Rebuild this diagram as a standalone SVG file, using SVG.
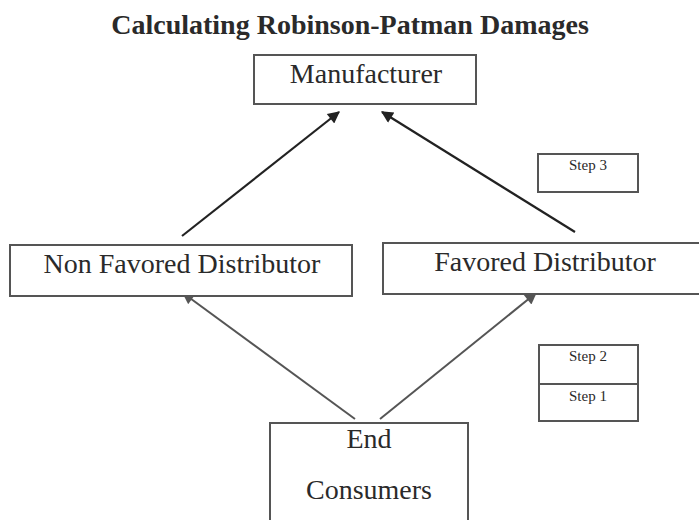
<svg xmlns="http://www.w3.org/2000/svg" width="699" height="520" viewBox="0 0 699 520">
<defs>
<style>
.box{fill:#fff;stroke:#555;stroke-width:2}
.t{font-family:"Liberation Serif","Times New Roman",serif;fill:#2a2a2a;text-anchor:middle}
.big{font-size:28px}
.small{font-size:15px}
.title{font-size:28px;font-weight:bold}
.dark{stroke:#222;stroke-width:2.2;fill:none}
.grey{stroke:#555;stroke-width:2;fill:none}
</style>
<marker id="ad" viewBox="0 0 10 10" refX="9" refY="5" markerWidth="14" markerHeight="12" markerUnits="userSpaceOnUse" orient="auto"><path d="M0,0 L10,5 L0,10 z" fill="#222"/></marker>
<marker id="ag" viewBox="0 0 10 10" refX="9" refY="5" markerWidth="14" markerHeight="12" markerUnits="userSpaceOnUse" orient="auto"><path d="M0,0 L10,5 L0,10 z" fill="#555"/></marker>
</defs>
<rect width="699" height="520" fill="#fff"/>
<text class="t title" x="350" y="34">Calculating Robinson-Patman Damages</text>
<g id="connectors">
<line class="dark" x1="182" y1="236" x2="339" y2="112" marker-end="url(#ad)"/>
<line class="dark" x1="575" y1="232" x2="382" y2="112" marker-end="url(#ad)"/>
<line class="grey" x1="355" y1="419" x2="183" y2="293" marker-end="url(#ag)"/>
<line class="grey" x1="380" y1="419" x2="536" y2="293" marker-end="url(#ag)"/>
</g>
<g id="manufacturer">
<rect class="box" x="254" y="55" width="222" height="49"/>
<text class="t big" x="366" y="83">Manufacturer</text>
</g>
<g id="step3">
<rect class="box" x="538" y="154" width="100" height="38"/>
<text class="t small" x="588" y="170">Step 3</text>
</g>
<g id="nonfavored">
<rect class="box" x="10" y="245" width="342" height="51"/>
<text class="t big" x="182" y="273">Non Favored Distributor</text>
</g>
<g id="favored">
<rect class="box" x="383" y="243" width="320" height="51"/>
<text class="t big" x="545" y="271">Favored Distributor</text>
</g>
<g id="step2">
<rect class="box" x="539" y="345" width="99" height="39"/>
<text class="t small" x="588" y="361">Step 2</text>
</g>
<g id="step1">
<rect class="box" x="539" y="384" width="99" height="37"/>
<text class="t small" x="588" y="401">Step 1</text>
</g>
<g id="endconsumers">
<rect class="box" x="270" y="423" width="198" height="102"/>
<text class="t big" x="369" y="448">End</text>
<text class="t big" x="369" y="499">Consumers</text>
</g>
</svg>
